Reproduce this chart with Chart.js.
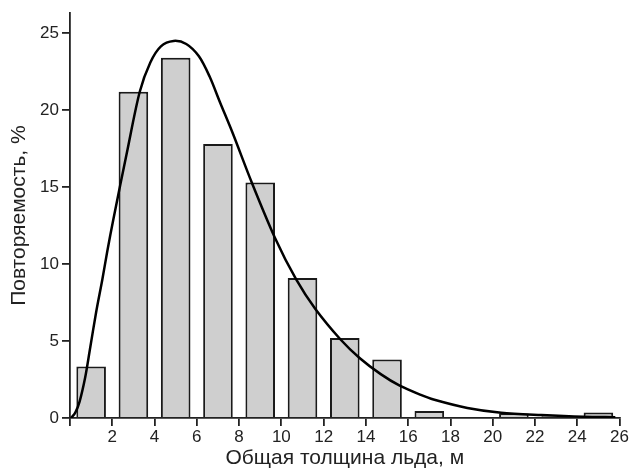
<!DOCTYPE html>
<html>
<head>
<meta charset="utf-8">
<script src="https://cdn.jsdelivr.net/npm/chart.js@4"></script>
<style>
  html, body { margin: 0; padding: 0; background: #fff; }
  #wrap { width: 630px; height: 471px; }
</style>
</head>
<body>
<div id="wrap"><canvas id="chart"></canvas></div>
<script>
// гистограмма: середины интервалов толщины (м) и повторяемость (%)
const binCenters = [1, 3, 5, 7, 9, 11, 13, 15, 17, 19, 21, 23, 25];
const binFreq = [3.35, 21.2, 23.4, 17.8, 15.3, 9.1, 5.2, 3.8, 0.45, null, 0.3, 0.12, 0.35];

// аппроксимирующая кривая
const curveX = [0.05, 0.25, 0.45, 0.72, 0.93, 1.24, 1.53, 1.76, 2.05, 2.7, 3.3, 3.8, 4.3, 4.9, 5.5, 6.1, 6.6, 7.1, 7.7, 8.6, 9.7, 10.7, 11.6, 12.8, 13.7, 14.7, 15.6, 16.6, 17.2, 18.8, 20.4, 22.3, 24.3, 25.8];
const curveY = [0, 0.35, 1.05, 2.65, 4.35, 6.9, 9.0, 10.8, 12.9, 17.3, 21.2, 23.1, 24.15, 24.5, 24.3, 23.5, 22.2, 20.5, 18.5, 15.3, 11.7, 9.0, 7.1, 5.1, 3.9, 2.85, 2.1, 1.5, 1.2, 0.65, 0.34, 0.19, 0.08, 0.05];

const xTicks = [0, 2, 4, 6, 8, 10, 12, 14, 16, 18, 20, 22, 24, 26];
const yTicks = [0, 5, 10, 15, 20, 25];

const axisColor = '#222';
const family = 'Liberation Sans, Arial, sans-serif';

const ctx = document.getElementById('chart').getContext('2d');
new Chart(ctx, {
    type: 'bar',
    data: {
        datasets: [
            {
                type: 'line',
                data: curveX.map((x, i) => ({ x: x, y: curveY[i] })),
                borderColor: '#000',
                borderWidth: 2.5,
                pointRadius: 0,
                tension: 0.3,
                fill: false,
                order: 0,
            },
            {
                type: 'bar',
                data: binCenters.map((x, i) => ({ x: x, y: binFreq[i] })),
                backgroundColor: '#cfcfcf',
                borderColor: '#1a1a1a',
                borderWidth: 2,
                barPercentage: 0.7,
                categoryPercentage: 1.0,
                order: 1,
            },
        ],
    },
    options: {
        responsive: true,
        maintainAspectRatio: false,
        animation: false,
        layout: { padding: { top: 7, right: 0, left: 0, bottom: 0 } },
        plugins: { legend: { display: false }, tooltip: { enabled: false } },
        scales: {
            x: {
                type: 'linear',
                min: 0,
                max: 26,
                offset: false,
                afterBuildTicks: s => { s.ticks = xTicks.map(v => ({ value: v })); },
                ticks: {
                    color: axisColor,
                    font: { family: family, size: 17 },
                    padding: 1,
                    maxRotation: 0,
                    autoSkip: false,
                    callback: v => (v === 0 ? '' : v),
                },
                grid: { drawOnChartArea: false, drawTicks: true, tickLength: 8, color: axisColor, lineWidth: 1.8, offset: false },
                border: { color: axisColor, width: 1.8 },
                title: { display: true, text: 'Общая толщина льда, м', color: axisColor, font: { family: family, size: 21 }, padding: { top: 0, bottom: 0 } },
                afterFit: s => { s.height = 53; },
            },
            y: {
                type: 'linear',
                min: 0,
                max: 26.3,
                afterBuildTicks: s => { s.ticks = yTicks.map(v => ({ value: v })); },
                ticks: { color: axisColor, font: { family: family, size: 17 }, padding: 3 },
                grid: { drawOnChartArea: false, drawTicks: true, tickLength: 8, color: axisColor, lineWidth: 1.8 },
                border: { color: axisColor, width: 1.8 },
                title: { display: true, text: 'Повторяемость, %', color: axisColor, font: { family: family, size: 21 }, padding: { top: 7, bottom: 0 } },
                afterFit: s => { s.width = 70; },
            },
        },
    },
});
</script>
</body>
</html>
